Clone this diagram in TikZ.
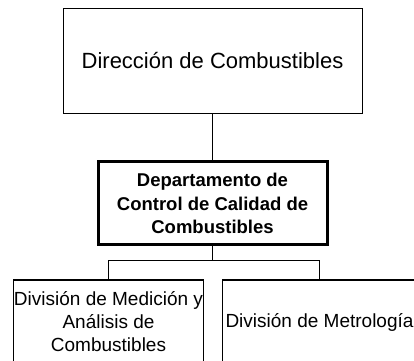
\documentclass[tikz,border=0pt]{standalone}
\usepackage{fontspec}
\setmainfont{Liberation Sans}
\usepackage{tikz}
\usetikzlibrary{positioning}

\begin{document}
\begin{tikzpicture}[x=1pt, y=1pt,
  topbox/.style={
    rectangle, draw=black, line width=0.9pt,
    minimum width=299pt, minimum height=105pt,
    font=\fontsize{22}{26}\selectfont, inner sep=0pt
  },
  deptbox/.style={
    rectangle, draw=black, line width=3pt,
    minimum width=229pt, minimum height=83pt, align=center,
    font=\fontsize{18.5}{23.5}\selectfont\bfseries, inner sep=0pt
  },
  divbox/.style={
    rectangle, draw=black, line width=1.2pt,
    minimum width=190pt, minimum height=84pt, align=center,
    font=\fontsize{19}{23}\selectfont, inner sep=0pt
  },
  link/.style={draw=black, line width=0.9pt}
]
  \useasboundingbox (0,0) rectangle (414,-360);
  \clip (0,0) rectangle (414,-360);

  \node[topbox] (dir) at (212.5,-60.5) {Dirección de Combustibles};
  \node[deptbox, below=47pt of dir] (dept)
    {Departamento de\\Control de Calidad de\\Combustibles};
  \node[divbox, below=33pt of dept, xshift=-104pt] (med)
    {División de Medición y\\Análisis de\\Combustibles};
  \node[divbox, minimum width=194pt, below=33pt of dept, xshift=107pt] (met)
    {División de Metrología};

  \draw[link, line width=1.3pt] (dir) -- (dept);
  \draw[link] (dept.south) -- ++(0,-14) coordinate (fork);
  \draw[link] (med.north) |- (fork) -| (met.north);
\end{tikzpicture}
\end{document}
